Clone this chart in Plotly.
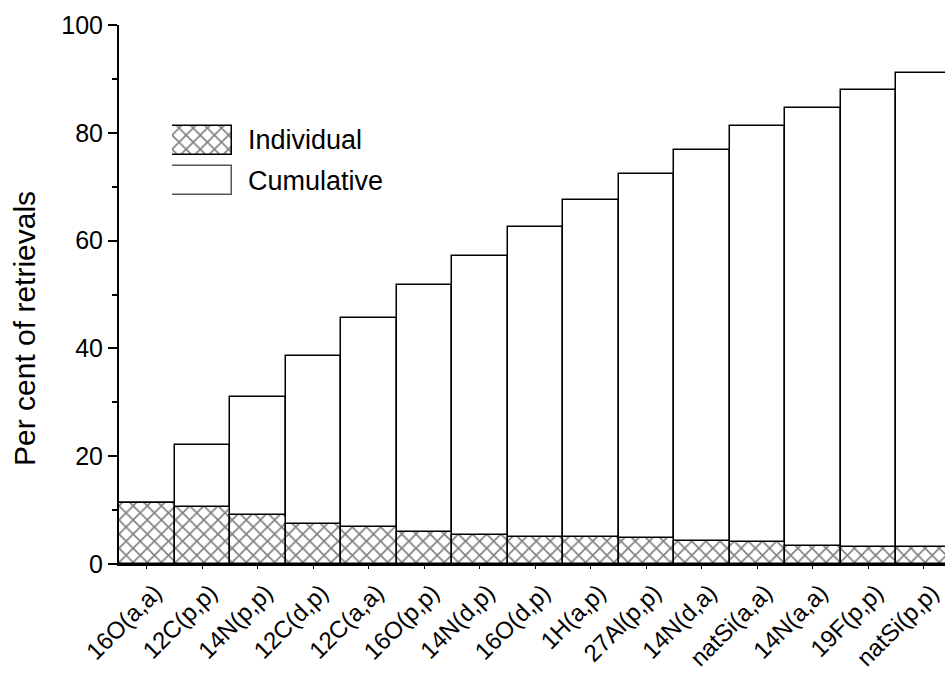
import plotly.graph_objects as go

categories = ["16O(a,a)", "12C(p,p)", "14N(p,p)", "12C(d,p)", "12C(a,a)", "16O(p,p)",
              "14N(d,p)", "16O(d,p)", "1H(a,p)", "27Al(p,p)", "14N(d,a)", "natSi(a,a)",
              "14N(a,a)", "19F(p,p)", "natSi(p,p)"]
cumulative = [11.4, 22.0, 31.0, 38.6, 45.6, 51.8, 57.2, 62.5, 67.6, 72.4, 76.9, 81.2, 84.6, 87.9, 91.1]
individual = [11.4, 10.5, 9.1, 7.5, 6.9, 6.0, 5.4, 5.1, 5.0, 4.8, 4.3, 4.1, 3.4, 3.2, 3.1]
y_ticks = [0, 20, 40, 60, 80, 100]
legend_names = ["Individual", "Cumulative"]
y_title = "Per cent of retrievals"

FONT = "Liberation Sans, Arial, sans-serif"
W, H = 945, 675
L, T, B = 119, 25, 111
PW, PH = W - L, H - T - B
x = list(range(len(categories)))

def px_x(p):
    return (p - L) / PW

def px_y(p):
    return (H - B - p) / PH

fig = go.Figure()
fig.add_trace(go.Bar(
    x=x, y=cumulative, width=1.0, name="Cumulative", showlegend=False,
    marker=dict(color="white", line=dict(color="black", width=1.5)),
))
fig.add_trace(go.Bar(
    x=x, y=individual, width=1.0, name="Individual", showlegend=False,
    marker=dict(color="white", line=dict(color="black", width=1.5),
                pattern=dict(shape="x", fgcolor="black", bgcolor="white", size=10, solidity=0.3)),
))

# Legend swatches drawn on a small overlay axis
fig.add_trace(go.Bar(
    y=[0, 1], x=[1, 1], orientation="h", width=[0.74, 0.74], base=0,
    xaxis="x2", yaxis="y2", showlegend=False, hoverinfo="skip",
    marker=dict(color="white", line=dict(color=["black", "#555555"], width=1.5),
                pattern=dict(shape=["x", ""], fgcolor="black", bgcolor="white", size=10, solidity=0.3)),
))

fig.update_layout(
    width=W, height=H,
    margin=dict(l=L, r=0, t=T, b=B, pad=0),
    paper_bgcolor="white", plot_bgcolor="white",
    barmode="overlay", bargap=0,
    font=dict(family=FONT, size=25, color="black"),
    xaxis=dict(
        range=[-0.5, -0.5 + PW / 55.5], tickmode="array", tickvals=x, ticktext=categories,
        tickangle=-45, tickfont=dict(size=24), ticklabelshift=8, showgrid=False, zeroline=False,
        showline=True, linecolor="black", linewidth=2, ticks="outside", ticklen=3,
        tickcolor="black", fixedrange=True,
    ),
    yaxis=dict(
        range=[0, 100], tickvals=y_ticks, showgrid=False, zeroline=False,
        showline=True, linecolor="black", linewidth=2, ticks="outside", ticklen=9,
        tickwidth=1.5, tickcolor="black", tickfont=dict(size=25),
        minor=dict(dtick=10, ticks="outside", ticklen=5, tickwidth=1.5, tickcolor="black"),
    ),
    xaxis2=dict(domain=[px_x(172), px_x(232)], range=[0, 1], anchor="y2",
                visible=False, fixedrange=True),
    yaxis2=dict(domain=[px_y(200), px_y(121)], range=[1.5, -0.5], anchor="x2",
                visible=False, fixedrange=True),
)

fig.add_annotation(
    x=px_x(24), y=px_y(329), xref="paper", yref="paper", text=y_title, textangle=-90,
    showarrow=False, xanchor="center", yanchor="middle",
    font=dict(family=FONT, size=30, color="black"),
)

for i, name in enumerate(legend_names):
    fig.add_annotation(
        x=px_x(246), y=[px_y(140), px_y(181)][i], xref="paper", yref="paper",
        text=name, showarrow=False, xanchor="left", yanchor="middle",
        font=dict(family=FONT, size=27, color="black"),
    )

fig.write_html("out.html")
